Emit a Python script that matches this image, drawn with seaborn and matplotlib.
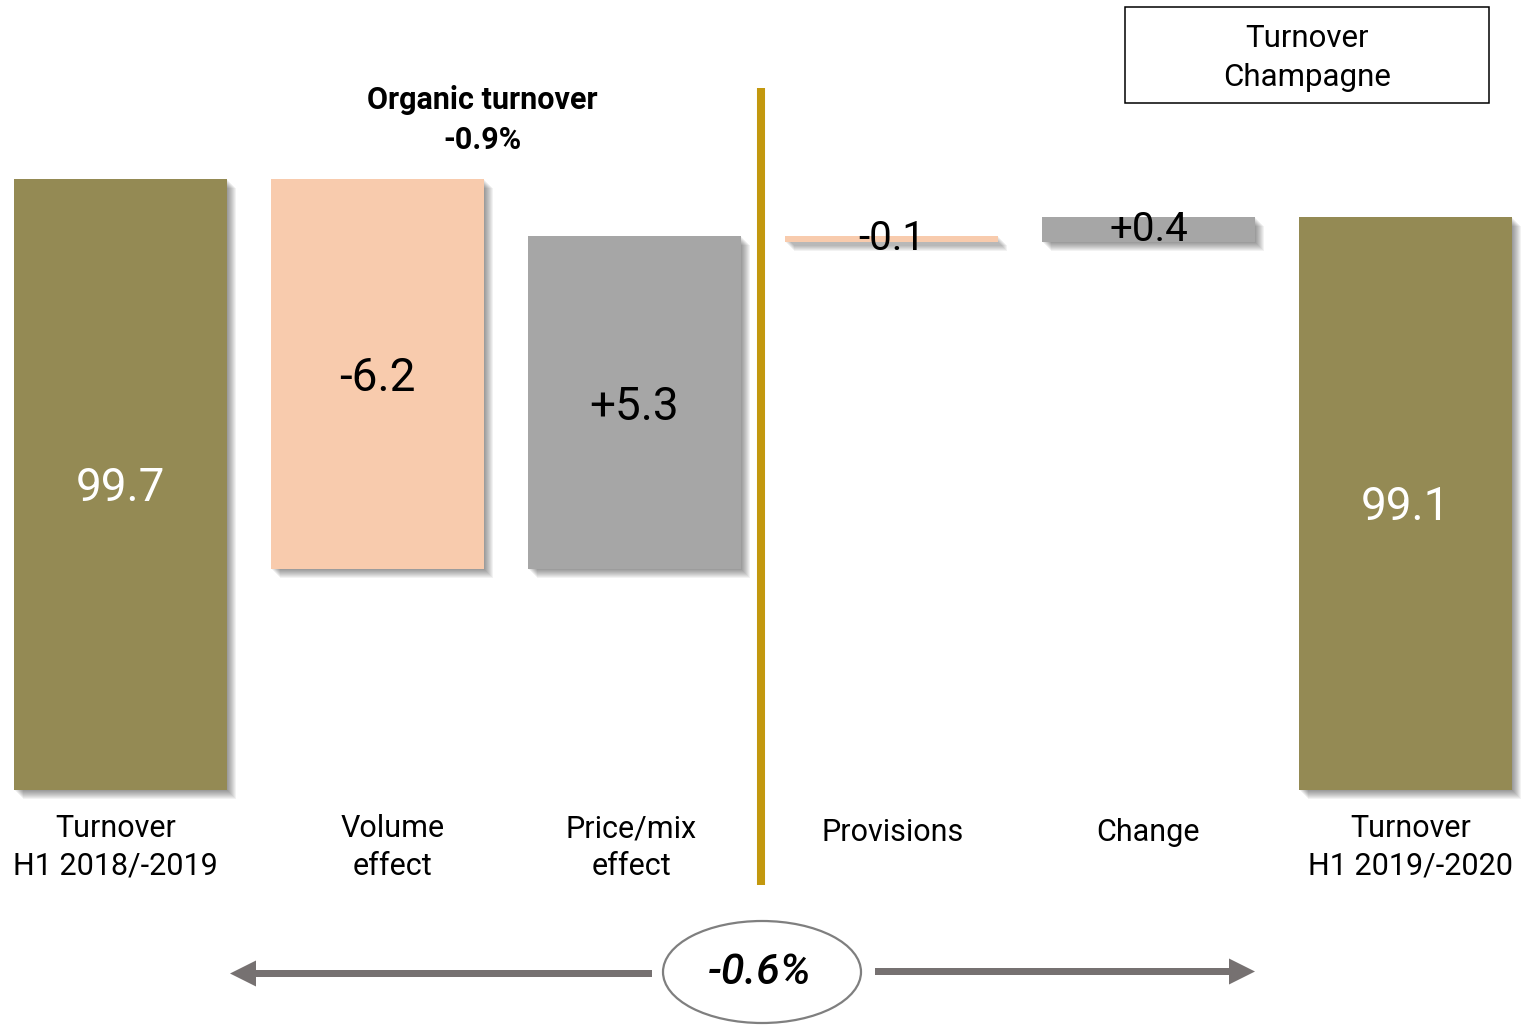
import matplotlib
matplotlib.use("Agg")
import matplotlib.pyplot as plt
import matplotlib.patheffects as pe
from matplotlib.patches import Rectangle, Ellipse, FancyArrow
import seaborn as sns

# ---- data -------------------------------------------------------------
categories = ["Turnover\nH1 2018/-2019", "Volume\neffect", "Price/mix\neffect",
              "Provisions", "Change", "Turnover\nH1 2019/-2020"]
values = [99.7, -6.2, 5.3, -0.1, 0.4, 99.1]
is_total = [True, False, False, False, False, True]
value_labels = ["99.7", "-6.2", "+5.3", "-0.1", "+0.4", "99.1"]
baseline = 90.0
organic_label = "Organic turnover\n-0.9%"
overall_label = "-0.6%"
box_label = "Turnover\nChampagne"

# ---- style ------------------------------------------------------------
OLIVE = "#948A54"
PEACH = "#F8CBAD"
GREY = "#A6A6A6"
GOLD = "#C3980E"
ARROW = "#767171"

sns.set_theme(style="white")
plt.rcParams["font.family"] = ["Roboto", "DejaVu Sans"]
plt.rcParams["text.color"] = "black"

W, H = 1522, 1026
fig = plt.figure(figsize=(W / 100, H / 100), dpi=100)
ax = fig.add_axes([0, 0, 1, 1])
ax.set_axis_off()

# scale: 257 px per category step, 63 px per unit of turnover
PX_X, PX_Y = 257.0, 63.0
x0_px, base_px = 120.5, 790.0
ax.set_xlim(-x0_px / PX_X, (W - x0_px) / PX_X)
ax.set_ylim(baseline - (H - base_px) / PX_Y, baseline + base_px / PX_Y)

# ---- waterfall geometry -------------------------------------------------
bottoms, heights, colors = [], [], []
running = 0.0
for v, tot in zip(values, is_total):
    if tot:
        bottoms.append(baseline)
        heights.append(v - baseline)
        colors.append(OLIVE)
        running = v
    else:
        start = running
        running = start + v
        bottoms.append(min(start, running))
        heights.append(abs(v))
        colors.append(PEACH if v < 0 else GREY)

xs = list(range(len(values)))
bars = ax.bar(xs, heights, bottom=bottoms, width=0.83, color=colors,
              edgecolor="none", zorder=3)

# soft drop shadow down-right of every bar
shadow = [pe.SimplePatchShadow(offset=(k * 0.72, -k * 0.72),
                               shadow_rgbFace="black", alpha=0.05)
          for k in range(1, 10)]
for b in bars:
    b.set_path_effects(shadow + [pe.Normal()])

# value labels centred in each bar
for x, b0, h, lab, tot in zip(xs, bottoms, heights, value_labels, is_total):
    small = h < 1
    dy = 0.0 if small else 4 / PX_Y
    ax.text(x, b0 + h / 2 - dy, lab, ha="center", va="center",
            fontsize=29 if small else 33,
            color="white" if tot else "black", zorder=5)

# category labels under the bars
label_dx_px = [-5, 15, -3, 1, 0, 5]
for x, cat, dx in zip(xs, categories, label_dx_px):
    top_px = 814 if "\n" in cat else 818
    ax.text(x + dx / PX_X, 1 - top_px / H, cat, transform=ax.get_xaxis_transform(),
            ha="center", va="top", fontsize=22, color="black",
            linespacing=1.38, zorder=5)

# ---- overlay in pixel coordinates for annotations -------------------------
ov = fig.add_axes([0, 0, 1, 1], zorder=10)
ov.set_xlim(0, W)
ov.set_ylim(H, 0)
ov.set_axis_off()
ov.patch.set_alpha(0)

# divider between organic and non-organic effects
ov.plot([761, 761], [88, 885], color=GOLD, lw=5.8, solid_capstyle="butt")

ov.text(482, 120, organic_label, ha="center", va="center", fontsize=22,
        fontweight="bold", linespacing=1.4, color="black")

ov.add_patch(Rectangle((1125, 7), 364, 96, fill=False, edgecolor="black", lw=1.1))
ov.text(1307, 58, box_label, ha="center", va="center", fontsize=22.5,
        linespacing=1.4, color="black")

# overall change arrows and badge
arrow_kw = dict(width=7, head_width=26, head_length=26,
                length_includes_head=True, color=ARROW, lw=0)
ov.add_patch(FancyArrow(652, 973.5, 230 - 652, 0, **arrow_kw))
ov.add_patch(FancyArrow(875, 971.5, 1255 - 875, 0, **arrow_kw))
ov.add_patch(Ellipse((762, 972), 198, 102, facecolor="white",
                     edgecolor="#7F7F7F", lw=1.6))
ov.text(760, 972, overall_label, ha="center", va="center", fontsize=31,
        fontstyle="italic", fontweight="medium", color="black")

fig.savefig("out.png", dpi=100, facecolor="white")
